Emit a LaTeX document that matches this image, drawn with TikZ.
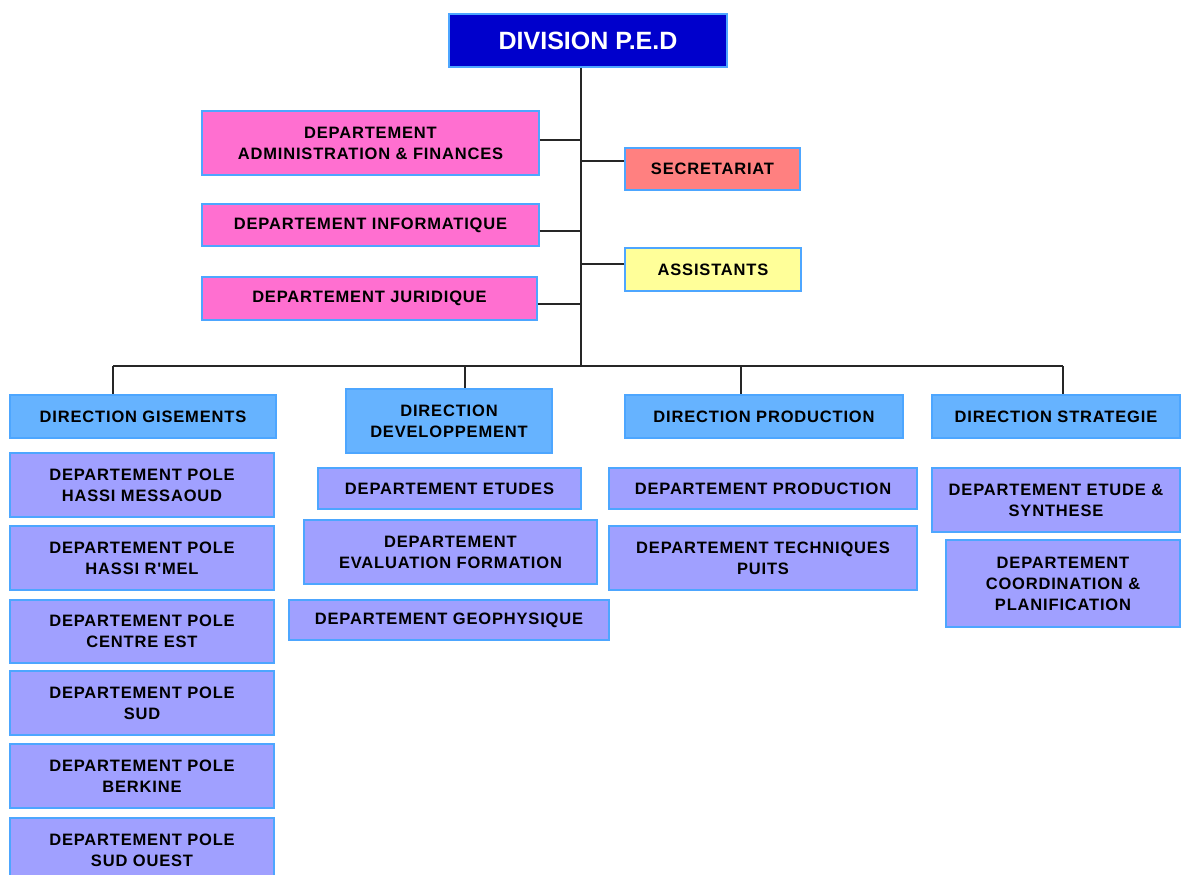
\documentclass[tikz,border=0pt]{standalone}
\usepackage{fontspec}
\setmainfont{Liberation Sans}
\newfontfamily\chartfont{Liberation Sans}[LetterSpace=5]
\usepackage{tikz}
\usetikzlibrary{positioning}

\definecolor{titlebg}{HTML}{0000CC}
\definecolor{edgeblue}{HTML}{4DA6FF}
\definecolor{pinkbg}{HTML}{FF6FD0}
\definecolor{salmonbg}{HTML}{FF8080}
\definecolor{yellowbg}{HTML}{FFFF99}
\definecolor{dirbg}{HTML}{66B3FF}
\definecolor{deptbg}{HTML}{A0A0FF}

\tikzset{
  box/.style={draw=edgeblue, line width=1.3pt, align=center, inner sep=2pt,
    font=\chartfont\fontsize{16.5}{21}\selectfont\bfseries},
  titlebox/.style={box, fill=titlebg, text=white,
    font=\rmfamily\fontsize{25}{30}\selectfont\bfseries},
  admbox/.style={box, fill=pinkbg},
  secbox/.style={box, fill=salmonbg},
  assbox/.style={box, fill=yellowbg},
  dirbox/.style={box, fill=dirbg},
  deptbox/.style={box, fill=deptbg},
  link/.style={draw=black!85, line width=1.5pt}
}

\begin{document}
\begin{tikzpicture}[x=1pt, y=-1pt]
    \clip (0,0) rectangle (1181,875);

    % top of the chart
    \node[titlebox, minimum width=278, minimum height=53] (top) at (588,40.5) {DIVISION P.E.D};

    \node[admbox, minimum width=337, minimum height=64] (adm) at (370.5,143) {DEPARTEMENT\\ADMINISTRATION \& FINANCES};
    \node[admbox, minimum width=337, minimum height=42] (info) at (370.5,225) {DEPARTEMENT INFORMATIQUE};
    \node[admbox, minimum width=335, minimum height=43] (jur) at (369.5,298.5) {DEPARTEMENT JURIDIQUE};
    \node[secbox, minimum width=175, minimum height=42] (sec) at (712.5,169) {SECRETARIAT};
    \node[assbox, minimum width=176, minimum height=43] (ass) at (713,269.5) {ASSISTANTS};

    % directions
    \node[dirbox, minimum width=266, minimum height=43] (gis) at (143,416.5) {DIRECTION GISEMENTS};
    \node[dirbox, minimum width=206, minimum height=64] (dev) at (449,421) {DIRECTION\\DEVELOPPEMENT};
    \node[dirbox, minimum width=278, minimum height=43] (prod) at (764,416.5) {DIRECTION PRODUCTION};
    \node[dirbox, minimum width=248, minimum height=43] (strat) at (1056,416.5) {DIRECTION STRATEGIE};

    % departements
    \node[deptbox, minimum width=264, minimum height=64] (hmd) at (142,485) {DEPARTEMENT POLE\\HASSI MESSAOUD};
    \node[deptbox, minimum width=264, minimum height=64] (hrm) at (142,558) {DEPARTEMENT POLE\\HASSI R'MEL};
    \node[deptbox, minimum width=264, minimum height=63] (cest) at (142,631.5) {DEPARTEMENT POLE\\CENTRE EST};
    \node[deptbox, minimum width=264, minimum height=64] (sud) at (142,703) {DEPARTEMENT POLE\\SUD};
    \node[deptbox, minimum width=264, minimum height=64] (berk) at (142,776) {DEPARTEMENT POLE\\BERKINE};
    \node[deptbox, minimum width=264, minimum height=64] (sudo) at (142,850) {DEPARTEMENT POLE\\SUD OUEST};

    \node[deptbox, minimum width=263, minimum height=41] (etu) at (449.5,488.5) {DEPARTEMENT ETUDES};
    \node[deptbox, minimum width=293, minimum height=64] (eval) at (450.5,552) {DEPARTEMENT\\EVALUATION FORMATION};
    \node[deptbox, minimum width=320, minimum height=40] (geo) at (449,620) {DEPARTEMENT GEOPHYSIQUE};

    \node[deptbox, minimum width=308, minimum height=41] (dprod) at (763,488.5) {DEPARTEMENT PRODUCTION};
    \node[deptbox, minimum width=308, minimum height=64] (puits) at (763,558) {DEPARTEMENT TECHNIQUES\\PUITS};

    \node[deptbox, minimum width=248, minimum height=64] (synth) at (1056,500) {DEPARTEMENT ETUDE \&\\SYNTHESE};
    \node[deptbox, minimum width=234, minimum height=87] (coord) at (1063,583.5) {DEPARTEMENT\\COORDINATION \&\\PLANIFICATION};

    % links
    \coordinate (trunk) at (581,366);
    \coordinate (d1) at (113,366);
    \coordinate (d2) at (465,366);
    \coordinate (d3) at (741,366);
    \coordinate (d4) at (1063,366);

    \draw[link] (trunk |- top.south) -- (trunk);
    \draw[link] ([yshift=3pt]adm.east) -- ([yshift=3pt]adm.east -| trunk);
    \draw[link] ([yshift=-6pt]info.east) -- ([yshift=-6pt]info.east -| trunk);
    \draw[link] ([yshift=-5.5pt]jur.east) -- ([yshift=-5.5pt]jur.east -| trunk);
    \draw[link] ([yshift=8pt]sec.west) -- ([yshift=8pt]sec.west -| trunk);
    \draw[link] ([yshift=5.5pt]ass.west) -- ([yshift=5.5pt]ass.west -| trunk);
    \draw[link] (d1) -- (d4);
    \draw[link] (d1) -- (d1 |- gis.north);
    \draw[link] (d2) -- (d2 |- dev.north);
    \draw[link] (d3) -- (d3 |- prod.north);
    \draw[link] (d4) -- (d4 |- strat.north);
\end{tikzpicture}
\end{document}
